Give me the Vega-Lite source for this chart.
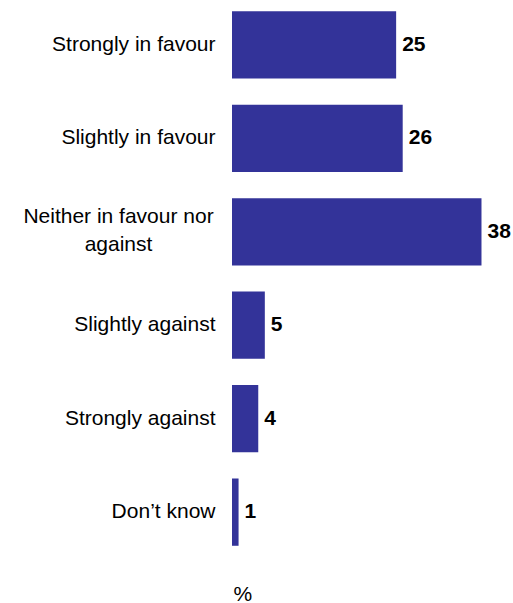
{
  "$schema": "https://vega.github.io/schema/vega-lite/v6.json",
  "width": 281,
  "height": 557,
  "autosize": {"type": "none"},
  "padding": {"left": 232, "top": 0, "right": 0, "bottom": 46},
  "background": "white",
  "data": {"values": [
    {"answer": "Strongly in favour", "pct": 25},
    {"answer": "Slightly in favour", "pct": 26},
    {"answer": "Neither in favour nor against", "pct": 38},
    {"answer": "Slightly against", "pct": 5},
    {"answer": "Strongly against", "pct": 4},
    {"answer": "Don’t know", "pct": 1}
  ]},
  "config": {"view": {"stroke": null}, "font": "Liberation Sans"},
  "encoding": {
    "y": {"field": "answer", "type": "nominal", "sort": null,
      "scale": {"paddingInner": 0.28, "paddingOuter": 0.12},
      "axis": {"title": null, "domain": false, "ticks": false,
        "labelPadding": {"condition": {"test": "datum.value == 'Neither in favour nor against'", "value": 114}, "value": 17},
        "labelAlign": {"condition": {"test": "datum.value == 'Neither in favour nor against'", "value": "center"}, "value": "right"},
        "labelOffset": {"condition": {"test": "datum.value == 'Neither in favour nor against'", "value": -15}, "value": 0},
        "labelFontSize": 21, "labelColor": "#000000", "labelFont": "Liberation Sans",
        "labelLineHeight": 28, "labelLimit": 300,
        "labelExpr": "datum.value == 'Neither in favour nor against' ? ['Neither in favour nor', 'against'] : datum.value"}},
    "x": {"field": "pct", "type": "quantitative",
      "scale": {"domain": [0, 42.8]},
      "axis": {"title": "%", "domain": false, "ticks": false, "labels": false, "grid": false,
        "titleFontSize": 21, "titleFontWeight": "normal", "titleColor": "#000000",
        "titleAnchor": "start", "titleAlign": "left", "titleX": 1, "titleY": 43, "titleBaseline": "alphabetic"}}
  },
  "layer": [
    {"mark": {"type": "bar", "color": "#333399"}},
    {"mark": {"type": "text", "align": "left", "baseline": "middle", "dx": 6, "fontSize": 21, "fontWeight": "bold", "color": "#000000"},
      "encoding": {"text": {"field": "pct", "type": "quantitative"}}}
  ]
}
